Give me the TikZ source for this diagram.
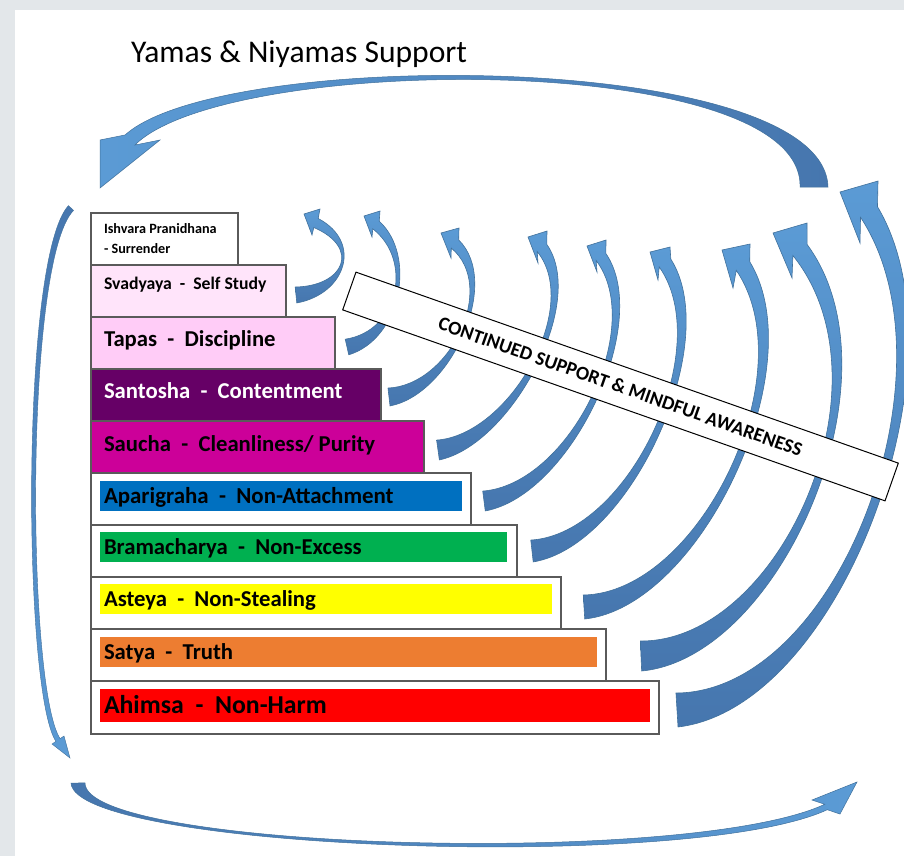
\documentclass[tikz,border=0pt]{standalone}
\usepackage{fontspec}
\setmainfont{Carlito}
\usetikzlibrary{calc}
\definecolor{bggray}{HTML}{E3E7EA}
\definecolor{arrLight}{HTML}{5B9BD5}
\definecolor{arrDark}{HTML}{4676AE}
\definecolor{arrLine}{HTML}{41719C}
\definecolor{boxLine}{HTML}{5A5A5A}
\definecolor{svadFill}{HTML}{FFE4FA}
\definecolor{tapasFill}{HTML}{FFCCF7}
\definecolor{santFill}{HTML}{660066}
\definecolor{sauchaFill}{HTML}{CC0099}
\definecolor{apaBlue}{HTML}{0070C0}
\definecolor{bramGreen}{HTML}{00B050}
\definecolor{astYellow}{HTML}{FFFF00}
\definecolor{satOrange}{HTML}{ED7D31}
\definecolor{ahRed}{HTML}{FF0000}
\newcommand\fsz[1]{\fontsize{#1}{#1}\selectfont}
% block arrow: #1 name (coords #1-0..#1-3 centre line, #1-bi, #1-tip, #1-bo head), #2-#5 half widths, #6 style
\newcommand\blockarr[6]{%
 \shadedraw[#6] ($(#1-0)!#2!90:(#1-1)$)
   .. controls ($(#1-1)!#3!-90:(#1-0)$) and ($(#1-2)!#4!90:(#1-3)$) .. ($(#1-3)!#5!-90:(#1-2)$)
   -- (#1-bi) -- (#1-tip) -- (#1-bo)
   -- ($(#1-3)!#5!90:(#1-2)$)
   .. controls ($(#1-2)!#4!-90:(#1-3)$) and ($(#1-1)!#3!90:(#1-0)$) .. ($(#1-0)!#2!-90:(#1-1)$) -- cycle;
}
\begin{document}
\begin{tikzpicture}[x=1pt,y=-1pt,
  lbl/.style={anchor=base west, inner sep=0pt, outer sep=0pt},
  arrsh/.style={top color=arrLight, bottom color=arrDark, draw=arrLine, line width=0.6pt},
  topsh/.style={left color=arrLight, right color=arrDark, draw=arrLine, line width=0.5pt},
  botsh/.style={left color=arrDark, right color=arrLight, draw=arrLine, line width=0.5pt},
  leftsh/.style={top color=arrDark, bottom color=arrLight, draw=arrLine, line width=0.4pt},
  stepbox/.style={draw=boxLine, line width=1.3pt}]
\useasboundingbox (0,0) rectangle (904,856);
\fill[bggray] (0,0) rectangle (904,856);
\fill[white] (15,10) rectangle (904,856);

% ---------- title
\node[lbl, font=\fsz{31.6}] (title) at (131,63) {Yamas \& Niyamas Support};

% ---------- big surrounding arcs
\coordinate (top-0) at (814,187); \coordinate (top-1) at (814,50);
\coordinate (top-2) at (225,50);  \coordinate (top-3) at (130,140);
\coordinate (top-bi) at (160,140); \coordinate (top-tip) at (100,188); \coordinate (top-bo) at (100,140);
\blockarr{top}{14pt}{10pt}{4pt}{7pt}{topsh}

\coordinate (lft-0) at (71,208); \coordinate (lft-1) at (22,260);
\coordinate (lft-2) at (25,690); \coordinate (lft-3) at (58,740);
\coordinate (lft-bi) at (64,736); \coordinate (lft-tip) at (70,758); \coordinate (lft-bo) at (52,744);
\blockarr{lft}{3.5pt}{2.5pt}{2.5pt}{2.5pt}{leftsh}

\coordinate (bot-0) at (78,783); \coordinate (bot-1) at (80,850);
\coordinate (bot-2) at (690,870); \coordinate (bot-3) at (826,807);
\coordinate (bot-bi) at (812,800); \coordinate (bot-tip) at (857,782); \coordinate (bot-bo) at (840,814);
\blockarr{bot}{7pt}{4pt}{3pt}{3pt}{botsh}

% ---------- support arrows
\coordinate (a1-0) at (296,295); \coordinate (a1-1) at (345,290);
\coordinate (a1-2) at (362,245); \coordinate (a1-3) at (316,223);
\coordinate (a1-bi) at (312,235); \coordinate (a1-tip) at (304,214); \coordinate (a1-bo) at (320,209);
\blockarr{a1}{8pt}{4pt}{3pt}{5pt}{arrsh}

\coordinate (a2-0) at (347,347); \coordinate (a2-1) at (400,335);
\coordinate (a2-2) at (415,258); \coordinate (a2-3) at (376,225);
\coordinate (a2-bi) at (372,237); \coordinate (a2-tip) at (364,216); \coordinate (a2-bo) at (380,211);
\blockarr{a2}{8pt}{4pt}{3pt}{5pt}{arrsh}

\coordinate (a3-0) at (389,397); \coordinate (a3-1) at (450,390);
\coordinate (a3-2) at (500,285); \coordinate (a3-3) at (455,244);
\coordinate (a3-bi) at (451,258); \coordinate (a3-tip) at (441,233); \coordinate (a3-bo) at (459,228);
\blockarr{a3}{9pt}{4.5pt}{3pt}{5.5pt}{arrsh}

\coordinate (a4-0) at (438,450); \coordinate (a4-1) at (510,440);
\coordinate (a4-2) at (585,305); \coordinate (a4-3) at (542,248);
\coordinate (a4-bi) at (538,263); \coordinate (a4-tip) at (528,237); \coordinate (a4-bo) at (547,231);
\blockarr{a4}{10pt}{5pt}{3.5pt}{6pt}{arrsh}

\coordinate (a5-0) at (484,501); \coordinate (a5-1) at (570,490);
\coordinate (a5-2) at (650,325); \coordinate (a5-3) at (601,257);
\coordinate (a5-bi) at (597,272); \coordinate (a5-tip) at (587,246); \coordinate (a5-bo) at (606,240);
\blockarr{a5}{10pt}{5.5pt}{4pt}{6pt}{arrsh}

\coordinate (a6-0) at (532,551); \coordinate (a6-1) at (630,540);
\coordinate (a6-2) at (720,345); \coordinate (a6-3) at (665,263);
\coordinate (a6-bi) at (658,280); \coordinate (a6-tip) at (650,252); \coordinate (a6-bo) at (670,247);
\blockarr{a6}{11pt}{6pt}{4.5pt}{7pt}{arrsh}

\coordinate (a7-0) at (584,607); \coordinate (a7-1) at (700,600);
\coordinate (a7-2) at (810,370); \coordinate (a7-3) at (743,266);
\coordinate (a7-bi) at (733,288); \coordinate (a7-tip) at (722,250); \coordinate (a7-bo) at (750,244);
\blockarr{a7}{12pt}{7pt}{5pt}{8pt}{arrsh}

\coordinate (a8-0) at (641,656); \coordinate (a8-1) at (780,650);
\coordinate (a8-2) at (900,380); \coordinate (a8-3) at (800,250);
\coordinate (a8-bi) at (792,278); \coordinate (a8-tip) at (773,233); \coordinate (a8-bo) at (807,223);
\blockarr{a8}{15pt}{8pt}{5.5pt}{9pt}{arrsh}

\coordinate (a9-0) at (677,710); \coordinate (a9-1) at (840,700);
\coordinate (a9-2) at (965,365); \coordinate (a9-3) at (869,212);
\coordinate (a9-bi) at (860,243); \coordinate (a9-tip) at (840,192); \coordinate (a9-bo) at (878,181);
\blockarr{a9}{17pt}{8pt}{6pt}{10pt}{arrsh}

% ---------- banner
\node[draw=black, fill=white, line width=1pt, minimum width=575pt, minimum height=40pt,
      inner sep=0pt, rotate=-19.4, font=\bfseries\fsz{19.5}] (banner) at (620.5,386.5)
      {CONTINUED SUPPORT \& MINDFUL AWARENESS};

% ---------- steps
\draw[stepbox, fill=white]      (91,213) rectangle (238,265);
\draw[stepbox, fill=svadFill]   (91,265) rectangle (286,317);
\draw[stepbox, fill=tapasFill]  (91,317) rectangle (335,369);
\draw[stepbox, fill=santFill]   (91,369) rectangle (381,421);
\draw[stepbox, fill=sauchaFill] (91,421) rectangle (424,473);
\draw[stepbox, fill=white]      (91,473) rectangle (471,525);
\draw[stepbox, fill=white]      (91,525) rectangle (517,577);
\draw[stepbox, fill=white]      (91,577) rectangle (561,629);
\draw[stepbox, fill=white]      (91,629) rectangle (606,681);
\draw[stepbox, fill=white]      (91,681) rectangle (659,734);
\fill[apaBlue]   (100,481) rectangle (462,511);
\fill[bramGreen] (100,532) rectangle (507,562);
\fill[astYellow] (100,584) rectangle (552,614);
\fill[satOrange] (100,637) rectangle (597,667);
\fill[ahRed]     (100,689) rectangle (650,722);

% ---------- labels
\node[lbl, font=\bfseries\fsz{14.2}] (tIsh1) at (104,233.5) {Ishvara Pranidhana};
\node[lbl, font=\bfseries\fsz{14.2}] (tIsh2) at (104,253.5) {- Surrender};
\node[lbl, font=\bfseries\fsz{17.7}] (tSvad) at (104,289.5) {Svadyaya\ \ -\ \ Self Study};
\node[lbl, font=\bfseries\fsz{22.7}] (tTap) at (104,346) {Tapas\ \ -\ \ Discipline};
\node[lbl, font=\bfseries\fsz{22.7}, text=white] (tSan) at (104,398) {Santosha\ \ -\ \ Contentment};
\node[lbl, font=\bfseries\fsz{22.7}] (tSau) at (104,451) {Saucha\ \ -\ \ Cleanliness/ Purity};
\node[lbl, font=\bfseries\fsz{22.9}] (tApa) at (104,503) {Aparigraha\ \ -\ \ Non-Attachment};
\node[lbl, font=\bfseries\fsz{22.7}] (tBra) at (104,554) {Bramacharya\ \ -\ \ Non-Excess};
\node[lbl, font=\bfseries\fsz{22.7}] (tAst) at (104,606) {Asteya\ \ -\ \ Non-Stealing};
\node[lbl, font=\bfseries\fsz{22.7}] (tSat) at (104,659) {Satya\ \ -\ \ Truth};
\node[lbl, font=\bfseries\fsz{25.8}] (tAhi) at (104,713) {Ahimsa\ \ -\ \ Non-Harm};
\end{tikzpicture}
\end{document}
